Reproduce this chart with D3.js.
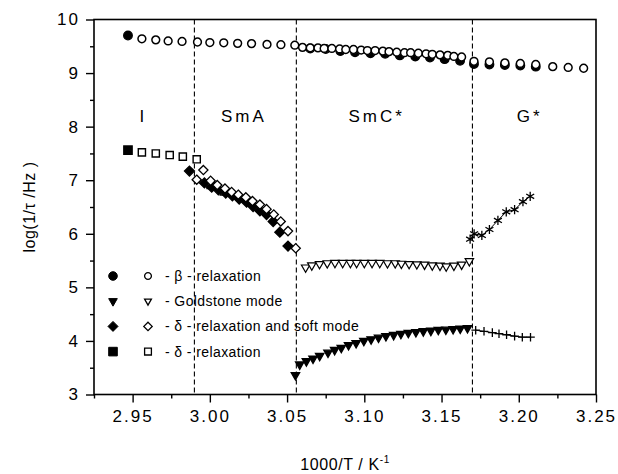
<!DOCTYPE html>
<html>
<head>
<meta charset="utf-8">
<script src="https://cdn.jsdelivr.net/npm/d3@7"></script>
<style>
  html, body { margin: 0; padding: 0; background: #fff; }
  svg { display: block; font-family: "Liberation Sans", Arial, Helvetica, sans-serif; }
  .tick text { font-size: 17px; letter-spacing: 2px; fill: #000; }
</style>
</head>
<body>
<svg id="chart" width="618" height="474"></svg>
<script>
// Relaxation rates vs inverse temperature, by phase
const xTicks = [2.95, 3.00, 3.05, 3.10, 3.15, 3.20, 3.25];
const xMinorTicks = [2.925, 2.975, 3.025, 3.075, 3.125, 3.175, 3.225];
const yTicks = [3, 4, 5, 6, 7, 8, 9, 10];
const yMinorTicks = [3.5, 4.5, 5.5, 6.5, 7.5, 8.5, 9.5];

const phaseBounds = [2.99, 3.056, 3.17];
const phaseNames = ["I", "SmA", "SmC*", "G*"];
const phaseLabelX = [2.957, 3.022, 3.108, 3.207];

// beta relaxation
const betaFilledX = [2.947, 3.065, 3.075, 3.0845, 3.094, 3.104, 3.1135, 3.123, 3.133, 3.1425, 3.152, 3.162, 3.171, 3.181, 3.191, 3.201, 3.211];
const betaFilledY = [9.70, 9.46, 9.45, 9.41, 9.39, 9.37, 9.36, 9.33, 9.31, 9.29, 9.26, 9.23, 9.17, 9.16, 9.15, 9.14, 9.12];
const betaOpenX = [2.956, 2.965, 2.973, 2.982, 2.992, 3.000, 3.009, 3.018, 3.027, 3.037, 3.046, 3.055,
  3.060, 3.065, 3.070, 3.074, 3.079, 3.084, 3.088, 3.093, 3.098, 3.102, 3.107, 3.112, 3.116, 3.121, 3.126, 3.130, 3.135, 3.140, 3.144, 3.149, 3.154, 3.158, 3.163,
  3.171, 3.181, 3.191, 3.201, 3.211, 3.222, 3.232, 3.242];
const betaOpenY = [9.64, 9.62, 9.60, 9.59, 9.58, 9.57, 9.565, 9.555, 9.55, 9.535, 9.53, 9.52,
  9.48, 9.47, 9.47, 9.46, 9.46, 9.45, 9.44, 9.44, 9.43, 9.42, 9.42, 9.41, 9.40, 9.39, 9.38, 9.38, 9.37, 9.36, 9.35, 9.34, 9.33, 9.31, 9.30,
  9.22, 9.21, 9.19, 9.18, 9.16, 9.12, 9.105, 9.09];

// Goldstone mode
const goldFilledX = [3.0554, 3.0582, 3.0625, 3.0668, 3.0711, 3.0765, 3.0808, 3.0851, 3.0898, 3.0947, 3.0997, 3.1044, 3.1092, 3.114, 3.119, 3.1237, 3.1285, 3.1334, 3.1382, 3.1431, 3.1479, 3.1528, 3.1575, 3.1621, 3.1668];
const goldFilledY = [3.36, 3.56, 3.62, 3.67, 3.72, 3.78, 3.83, 3.87, 3.92, 3.96, 4.00, 4.03, 4.06, 4.09, 4.11, 4.13, 4.15, 4.165, 4.18, 4.19, 4.205, 4.21, 4.22, 4.23, 4.24];
const goldOpenX = [3.062, 3.066, 3.071, 3.076, 3.081, 3.086, 3.091, 3.095, 3.100, 3.105, 3.110, 3.115, 3.120, 3.124, 3.129, 3.134, 3.139, 3.144, 3.149, 3.153, 3.158, 3.163, 3.168];
const goldOpenY = [5.37, 5.41, 5.435, 5.45, 5.455, 5.455, 5.455, 5.455, 5.455, 5.455, 5.455, 5.45, 5.45, 5.44, 5.435, 5.43, 5.425, 5.41, 5.405, 5.39, 5.405, 5.425, 5.49];

// delta relaxation and soft mode (SmA)
const softFilledX = [2.9868, 2.9965, 3.0012, 3.0055, 3.0103, 3.0146, 3.019, 3.0238, 3.028, 3.0324, 3.0367, 3.041, 3.0453, 3.0506];
const softFilledY = [7.17, 6.95, 6.87, 6.82, 6.76, 6.71, 6.65, 6.59, 6.51, 6.43, 6.36, 6.23, 6.03, 5.77];
const softOpenX = [2.9915, 2.9958, 3.0005, 3.0048, 3.0098, 3.0141, 3.0184, 3.0233, 3.0276, 3.0324, 3.0367, 3.0414, 3.0459, 3.0506, 3.0556];
const softOpenY = [7.01, 7.19, 6.99, 6.91, 6.845, 6.78, 6.73, 6.68, 6.61, 6.545, 6.46, 6.36, 6.23, 6.05, 5.73];

// delta relaxation
const deltaFilledX = [2.947];
const deltaFilledY = [7.56];
const deltaOpenX = [2.956, 2.965, 2.974, 2.9825, 2.9915, 3.0005, 3.009];
const deltaOpenY = [7.52, 7.50, 7.47, 7.44, 7.39, 6.91, 6.79];

// G* phase modes
const starX = [3.1685, 3.1711, 3.1761, 3.181, 3.1865, 3.1919, 3.1973, 3.2027, 3.2074];
const starY = [5.90, 6.00, 5.97, 6.08, 6.25, 6.41, 6.45, 6.60, 6.70];
const plusX = [3.1721, 3.1775, 3.1829, 3.1872, 3.1921, 3.1973, 3.2023, 3.2076];
const plusY = [4.20, 4.18, 4.155, 4.135, 4.115, 4.09, 4.07, 4.07];

const legendLabels = ["- \u03b2 - relaxation", "- Goldstone mode", "- \u03b4 - relaxation and soft mode", "- \u03b4 - relaxation"];
const legendShapes = ["circle", "triangle", "diamond", "square"];

const svg = d3.select("#chart");
const x = d3.scaleLinear().domain([2.925, 3.25]).range([94, 596]);
const y = d3.scaleLinear().domain([3, 10]).range([394.5, 19.5]);

const zip = (xs, ys) => xs.map((v, i) => [v, ys[i]]);

// marker path builders, centred on 0,0
const shapes = {
  circle: r => `M${r},0A${r},${r},0,1,1,${-r},0A${r},${r},0,1,1,${r},0Z`,
  square: r => `M${-r},${-r}H${r}V${r}H${-r}Z`,
  diamond: r => `M0,${-r}L${r},0L0,${r}L${-r},0Z`,
  triangle: r => `M${-r},${-r * 0.6}H${r}L0,${r * 1.15}Z`,
  star: r => {
    const a = r * Math.cos(Math.PI / 6), b = r * 0.5;
    return `M0,${-r}V${r}M${-a},${-b}L${a},${b}M${-a},${b}L${a},${-b}`;
  },
  plus: r => `M${-r},0H${r}M0,${-r}V${r}`
};

// axes
const gx = svg.append("g").attr("transform", "translate(0,394.5)")
  .call(d3.axisBottom(x).tickValues(xTicks).tickFormat(d3.format(".2f")).tickSize(8).tickPadding(7));
svg.append("g").attr("transform", "translate(0,394.5)")
  .call(d3.axisBottom(x).tickValues(xMinorTicks).tickFormat("").tickSize(4));
const gy = svg.append("g").attr("transform", "translate(94,0)")
  .call(d3.axisLeft(y).tickValues(yTicks).tickFormat(d3.format("d")).tickSize(8).tickPadding(6));
svg.append("g").attr("transform", "translate(94,0)")
  .call(d3.axisLeft(y).tickValues(yMinorTicks).tickFormat("").tickSize(4));
svg.selectAll(".domain").remove();
svg.selectAll(".tick line").attr("stroke", "#000").attr("stroke-width", 1.4);

// frame
svg.append("rect")
  .attr("x", x(2.925)).attr("y", y(10))
  .attr("width", x(3.25) - x(2.925)).attr("height", y(3) - y(10))
  .attr("fill", "none").attr("stroke", "#000").attr("stroke-width", 1.6);

// phase boundaries
svg.append("g").selectAll("line").data(phaseBounds).join("line")
  .attr("x1", d => x(d)).attr("x2", d => x(d))
  .attr("y1", y(10)).attr("y2", y(3))
  .attr("stroke", "#000").attr("stroke-width", 1.1).attr("stroke-dasharray", "5,3");

// phase names
svg.append("g").selectAll("text").data(phaseNames).join("text")
  .attr("x", (d, i) => x(phaseLabelX[i])).attr("y", y(8.2) + 6)
  .attr("text-anchor", "middle")
  .style("font-size", "17px").style("letter-spacing", "3px")
  .text(d => d);

// series
function drawSeries(xs, ys, shape, r, filled, sw) {
  svg.append("g").selectAll("path").data(zip(xs, ys)).join("path")
    .attr("transform", d => `translate(${x(d[0])},${y(d[1])})`)
    .attr("d", shapes[shape](r))
    .attr("fill", filled ? "#000" : "#fff")
    .attr("stroke", "#000").attr("stroke-width", sw || 1.3);
}
function drawLine(xs, ys) {
  svg.append("path").datum(zip(xs, ys))
    .attr("d", d3.line().x(d => x(d[0])).y(d => y(d[1])))
    .attr("fill", "none").attr("stroke", "#000").attr("stroke-width", 1);
}

drawSeries(betaFilledX, betaFilledY, "circle", 4.3, true);
drawSeries(betaOpenX, betaOpenY, "circle", 3.9, false, 1.5);

drawSeries(deltaFilledX, deltaFilledY, "square", 4.2, true);
drawSeries(deltaOpenX, deltaOpenY, "square", 3.6, false, 1.4);

drawSeries(softFilledX, softFilledY, "diamond", 5, true);
drawSeries(softOpenX, softOpenY, "diamond", 4.6, false, 1.3);

drawSeries(goldFilledX, goldFilledY, "triangle", 4.2, true);
drawSeries(goldOpenX, goldOpenY, "triangle", 4.2, false, 1.2);

drawLine(starX, starY);
drawSeries(starX, starY, "star", 4.6, false, 1.3);
drawLine(plusX, plusY);
drawSeries(plusX, plusY, "plus", 4.3, false, 1.3);

// legend
const lg = svg.append("g");
legendLabels.forEach((label, i) => {
  const ly = 276 + i * 25.2;
  lg.append("path").attr("transform", `translate(113,${ly})`)
    .attr("d", shapes[legendShapes[i]](legendShapes[i] === "diamond" ? 5 : 4.3))
    .attr("fill", "#000").attr("stroke", "#000");
  lg.append("path").attr("transform", `translate(148,${ly})`)
    .attr("d", shapes[legendShapes[i]](legendShapes[i] === "diamond" ? 4.2 : 3.4))
    .attr("fill", "#fff").attr("stroke", "#000").attr("stroke-width", 1.3);
  lg.append("text").attr("x", 165).attr("y", ly + 5)
    .style("font-size", "14px").style("letter-spacing", "0.4px")
    .text(label);
});

// axis titles
const xt = svg.append("text").attr("x", 345).attr("y", 470).attr("text-anchor", "middle")
  .style("font-size", "16px").style("letter-spacing", "0.6px");
xt.append("tspan").text("1000/T / K");
xt.append("tspan").attr("dy", -7).style("font-size", "10px").text("-1");

svg.append("text")
  .attr("transform", "translate(35,207) rotate(-90)")
  .attr("text-anchor", "middle")
  .style("font-size", "16px").style("letter-spacing", "0.5px")
  .text("log(1/\u03c4 /Hz )");
</script>
</body>
</html>
